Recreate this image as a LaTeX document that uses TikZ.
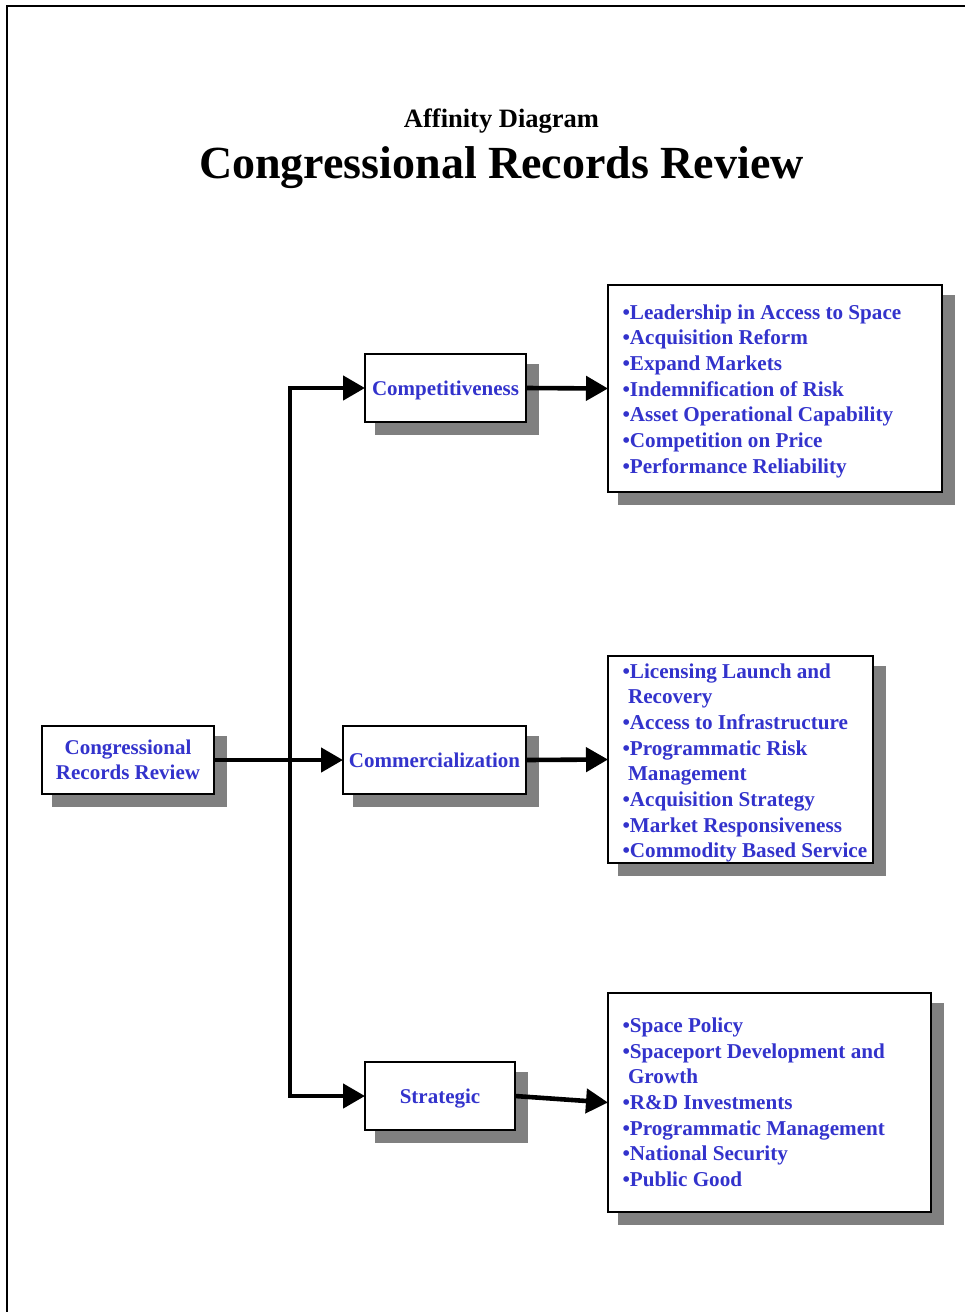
\documentclass[tikz,border=0pt]{standalone}
\usepackage{fontspec}
\setmainfont{Liberation Serif}
\usetikzlibrary{arrows.meta,calc,backgrounds}
\definecolor{itemblue}{RGB}{51,51,204}
\definecolor{shade}{RGB}{128,128,128}

\begin{document}
\begin{tikzpicture}[x=1pt,y=-1pt,
  frame/.style={line width=1.4pt},
  box/.style={draw=black, line width=1.3pt, fill=white, anchor=north west,
    inner sep=0pt, outer sep=0pt, align=center, text=itemblue,
    font=\bfseries\fontsize{21}{25}\selectfont},
  oneline/.style={text height=15pt, text depth=0pt},
  listbox/.style={draw=black, line width=1.3pt, fill=white, anchor=north west,
    inner sep=0pt, outer sep=0pt},
  items/.style={anchor=west, inner sep=0pt, outer sep=0pt, align=left,
    text=itemblue, font=\bfseries\fontsize{21.15}{25.67}\selectfont},
  link/.style={line width=4.6pt, line join=miter,
    -{Triangle[length=22pt,width=24pt]}},
  shadowof/.style={fill=shade}
]
\useasboundingbox (0,0) rectangle (965,1312);

% page frame
\draw[frame] (7,1312) -- (7,6) -- (965,6);

% headings
\node[font=\bfseries\fontsize{26.5}{30}\selectfont, anchor=base] (subtitle)
  at (501.5,127) {Affinity Diagram};
\node[font=\bfseries\fontsize{46}{50}\selectfont, anchor=base] (title)
  at (501.5,178) {Congressional Records Review};

% category boxes
\node[box, minimum width=172pt, minimum height=68pt] (root) at (42,726)
  {Congressional\\Records Review};
\node[box, oneline, minimum width=161pt, minimum height=68pt] (comp) at (365,354)
  {Competitiveness};
\node[box, oneline, minimum width=183pt, minimum height=68pt] (comm) at (343,726)
  {Commercialization};
\node[box, oneline, minimum width=150pt, minimum height=68pt] (strat) at (365,1062)
  {Strategic};

% item boxes
\node[listbox, minimum width=334pt, minimum height=207pt] (l1) at (608,285) {};
\node[listbox, minimum width=265pt, minimum height=207pt] (l2) at (608,656) {};
\node[listbox, minimum width=323pt, minimum height=219pt] (l3) at (608,993) {};

\node[items] (t1) at ($(l1.west)+(14.5,2.5)$)
  {•Leadership in Access to Space\\
   •Acquisition Reform\\
   •Expand Markets\\
   •Indemnification of Risk\\
   •Asset Operational Capability\\
   •Competition on Price\\
   •Performance Reliability};
\node[items] (t2) at ($(l2.west)+(14.5,3.3)$)
  {•Licensing Launch and\\
   \hspace*{5.5pt}Recovery\\
   •Access to Infrastructure\\
   •Programmatic Risk\\
   \hspace*{5.5pt}Management\\
   •Acquisition Strategy\\
   •Market Responsiveness\\
   •Commodity Based Service};
\node[items] (t3) at ($(l3.west)+(14.5,-0.3)$)
  {•Space Policy\\
   •Spaceport Development and\\
   \hspace*{5.5pt}Growth\\
   •R\&D Investments\\
   •Programmatic Management\\
   •National Security\\
   •Public Good};

% drop shadows behind every box
\begin{scope}[on background layer]
  \foreach \n in {root,comp,comm,strat,l1,l2,l3}{
    \fill[shadowof] ($(\n.north west)+(10,10)$) rectangle ($(\n.south east)+(13,13)$);
  }
\end{scope}

% connectors
\coordinate (trunkmid) at (290,760);
\coordinate (trunktop) at (290,388);
\coordinate (trunkbot) at (290,1096);
\draw[link] (root.east) -- (comm.west);
\draw[link] (trunkmid) -- (trunktop) -- (comp.west);
\draw[link] (trunkmid) -- (trunkbot) -- (strat.west);
\draw[link] (comp.east) -- (l1.west);
\draw[link] (comm.east) -- (l2.west);
\draw[link] (strat.east) -- (l3.west);
\end{tikzpicture}
\end{document}
